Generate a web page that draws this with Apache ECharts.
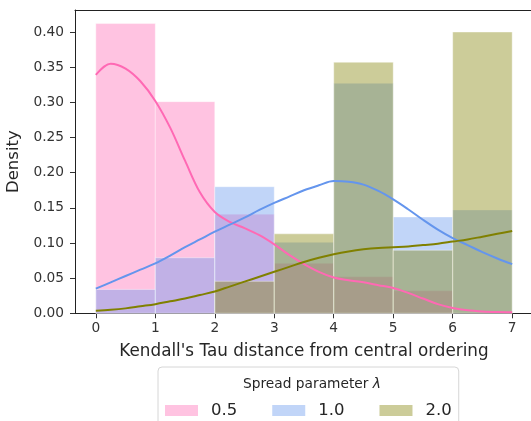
<!DOCTYPE html>
<html>
<head>
<meta charset="utf-8">
<script src="https://cdn.jsdelivr.net/npm/echarts@6/dist/echarts.min.js"></script>
<style>
html,body{margin:0;padding:0;background:#fff;overflow:hidden;}
#chart{width:531px;height:421px;}
</style>
</head>
<body>
<div id="chart"></div>
<script>
// ---- data ----
const binEdges = [0, 1, 2, 3, 4, 5, 6, 7];
const hist05 = [0.412, 0.301, 0.141, 0.071, 0.052, 0.032, 0];
const hist10 = [0.034, 0.079, 0.180, 0.101, 0.327, 0.137, 0.147];
const hist20 = [0, 0, 0.0455, 0.113, 0.357, 0.0897, 0.400];

const kdeX = [0, 0.25, 0.5, 0.75, 1, 1.25, 1.5, 1.75, 2, 2.25, 2.5, 2.75, 3, 3.25, 3.5, 3.75,
              4, 4.25, 4.5, 4.75, 5, 5.25, 5.5, 5.75, 6, 6.25, 6.5, 6.75, 7];
const kde05 = [0.339, 0.355, 0.348, 0.330, 0.302, 0.264, 0.217, 0.172, 0.144, 0.130, 0.121, 0.111,
               0.098, 0.083, 0.070, 0.059, 0.051, 0.047, 0.044, 0.040, 0.036, 0.029, 0.021, 0.013,
               0.0075, 0.0042, 0.0025, 0.0017, 0.0014];
const kde10 = [0.035, 0.044, 0.053, 0.062, 0.071, 0.082, 0.094, 0.105, 0.116, 0.126, 0.136, 0.147,
               0.157, 0.166, 0.175, 0.182, 0.188, 0.187, 0.183, 0.174, 0.162, 0.148, 0.133, 0.119,
               0.107, 0.097, 0.087, 0.078, 0.070];
const kde20 = [0.0037, 0.005, 0.007, 0.010, 0.013, 0.017, 0.021, 0.026, 0.031, 0.038, 0.045, 0.052,
               0.059, 0.066, 0.073, 0.079, 0.084, 0.088, 0.091, 0.093, 0.094, 0.095, 0.097, 0.099,
               0.102, 0.105, 0.109, 0.113, 0.117];

const groupNames = ['0.5', '1.0', '2.0'];
const xTicks = [0, 1, 2, 3, 4, 5, 6, 7];
const yTicks = [0, 0.05, 0.10, 0.15, 0.20, 0.25, 0.30, 0.35, 0.40];

// ---- styling ----
const lineColors = ['#FF69B4', '#6495ED', '#808000'];
const fillColors = ['rgba(255,105,180,0.4)', 'rgba(100,149,237,0.4)', 'rgba(128,128,0,0.4)'];
const swatchColors = ['#FFC3E1', '#C1D5F8', '#CCCC99'];
const FONT = 'DejaVu Sans';

function histData(h) {
  const out = [];
  for (let i = 0; i < h.length; i++) out.push([binEdges[i], binEdges[i + 1], h[i]]);
  return out;
}
function kdeData(v) { return kdeX.map((x, i) => [x, v[i]]); }

function histSeries(name, h, idx) {
  return {
    name: name,
    type: 'custom',
    z: 2 + idx,
    itemStyle: { color: swatchColors[idx] },
    encode: { x: [0, 1], y: 2 },
    data: histData(h),
    renderItem: function (params, api) {
      const x0 = api.value(0), x1 = api.value(1), hv = api.value(2);
      if (!hv) return null;
      const p0 = api.coord([x0, hv]);
      const p1 = api.coord([x1, 0]);
      return {
        type: 'rect',
        shape: { x: p0[0], y: p0[1], width: p1[0] - p0[0], height: p1[1] - p0[1] },
        style: { fill: fillColors[idx], stroke: 'rgba(255,255,255,0.5)', lineWidth: 0.8 }
      };
    }
  };
}
function kdeSeries(name, v, idx) {
  return {
    name: name,
    type: 'line',
    z: 10 + idx,
    smooth: 0.35,
    showSymbol: false,
    symbol: 'none',
    lineStyle: { color: lineColors[idx], width: 2 },
    itemStyle: { color: lineColors[idx] },
    data: kdeData(v)
  };
}

const chart = echarts.init(document.getElementById('chart'), null, { renderer: 'canvas' });
chart.setOption({
  animation: false,
  backgroundColor: '#fff',
  textStyle: { fontFamily: FONT },
  grid: { left: 75, top: 10, width: 458, height: 303.3, outerBoundsMode: 'none', containLabel: false, show: false },
  title: {
    text: 'Spread parameter {i|λ}',
    left: 307, top: 372, textAlign: 'center',
    textStyle: { fontFamily: FONT, fontSize: 13.75, fontWeight: 'normal', color: '#262626',
      rich: { i: { fontFamily: FONT, fontSize: 13.75, fontStyle: 'italic', color: '#262626' } } }
  },
  legend: {
    data: groupNames.map((n, i) => ({ name: n, itemStyle: { color: swatchColors[i], opacity: 1 } })),
    left: 158, top: 367,
    orient: 'horizontal',
    icon: 'rect',
    itemWidth: 33, itemHeight: 11, itemGap: 35,
    padding: [35, 7, 20, 7],
    backgroundColor: '#fff',
    borderColor: '#d6d6d6', borderWidth: 1, borderRadius: 4,
    selectedMode: false,
    textStyle: { fontFamily: FONT, fontSize: 16.5, color: '#262626', padding: [0, 0, 0, 8] }
  },
  xAxis: [{
    type: 'value', min: -0.35, max: 7.35, position: 'bottom',
    name: "Kendall's Tau distance from central ordering",
    nameLocation: 'middle', nameGap: 30,
    nameTextStyle: { fontFamily: FONT, fontSize: 16.8, color: '#262626' },
    splitLine: { show: false },
    axisLine: { show: true, onZero: false, lineStyle: { color: '#222', width: 1 } },
    axisTick: { show: true, length: 5, lineStyle: { color: '#333' }, customValues: xTicks },
    axisLabel: { fontFamily: FONT, fontSize: 13.75, color: '#333', margin: 8, customValues: xTicks,
      formatter: v => String(v) }
  }, {
    type: 'value', min: -0.35, max: 7.35, position: 'top',
    splitLine: { show: false },
    axisLine: { show: true, onZero: false, lineStyle: { color: '#222', width: 1 } },
    axisTick: { show: false },
    axisLabel: { show: false }
  }],
  yAxis: {
    type: 'value', min: 0, max: 0.4313,
    name: 'Density',
    nameLocation: 'middle', nameGap: 47,
    nameTextStyle: { fontFamily: FONT, fontSize: 16.5, color: '#262626' },
    splitLine: { show: false },
    axisLine: { show: true, onZero: false, lineStyle: { color: '#222', width: 1 } },
    axisTick: { show: true, length: 5, lineStyle: { color: '#333' }, customValues: yTicks },
    axisLabel: { fontFamily: FONT, fontSize: 13.75, color: '#333', margin: 11, customValues: yTicks,
      formatter: v => v.toFixed(2) }
  },
  series: [
    histSeries(groupNames[0], hist05, 0),
    histSeries(groupNames[1], hist10, 1),
    histSeries(groupNames[2], hist20, 2),
    kdeSeries('kde 0.5', kde05, 0),
    kdeSeries('kde 1.0', kde10, 1),
    kdeSeries('kde 2.0', kde20, 2)
  ]
});
</script>
</body>
</html>
